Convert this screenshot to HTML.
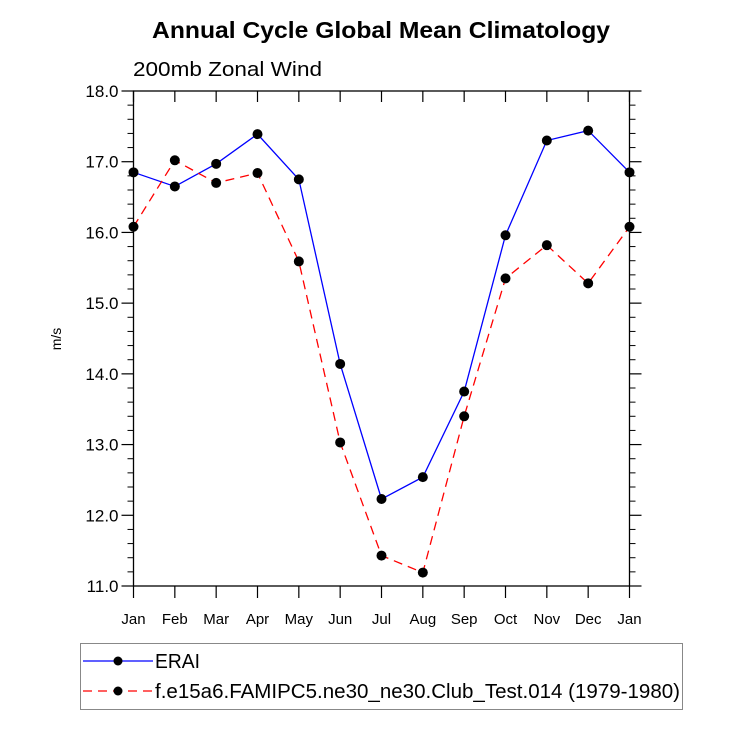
<!DOCTYPE html>
<html><head><meta charset="utf-8"><style>
body{margin:0;background:#fff}
svg text{font-family:"Liberation Sans",Arial,sans-serif}
</style></head><body>
<svg id="chart" width="729" height="729" viewBox="0 0 729 729" xmlns="http://www.w3.org/2000/svg">
<rect width="729" height="729" fill="#fff"/>
<text x="381" y="38" text-anchor="middle" font-size="23" font-weight="bold" textLength="458" lengthAdjust="spacingAndGlyphs">Annual Cycle Global Mean Climatology</text>
<text x="133" y="76" font-size="20" textLength="189" lengthAdjust="spacingAndGlyphs">200mb Zonal Wind</text>
<text transform="translate(61,339) rotate(-90)" text-anchor="middle" font-size="14">m/s</text>
<g id="axes"></g>
<g id="series"></g>
<rect x="80.5" y="643.5" width="602" height="66" fill="none" stroke="#888" stroke-width="1"/>
<g>
<line x1="83" y1="661" x2="153" y2="661" stroke="#00f" stroke-width="1.2"/>
<circle cx="118" cy="661" r="4.5" fill="#000"/>
<text x="155" y="668" font-size="20" textLength="45" lengthAdjust="spacingAndGlyphs">ERAI</text>
</g>
<g>
<line x1="83" y1="691" x2="153" y2="691" stroke="#f00" stroke-width="1.2" stroke-dasharray="9,6"/>
<circle cx="118" cy="691" r="4.5" fill="#000"/>
<text x="155" y="698" font-size="20" textLength="525" lengthAdjust="spacingAndGlyphs">f.e15a6.FAMIPC5.ne30_ne30.Club_Test.014 (1979-1980)</text>
</g>
</svg>
<script>
const months = ["Jan","Feb","Mar","Apr","May","Jun","Jul","Aug","Sep","Oct","Nov","Dec","Jan"];
const eraiValues = [16.85,16.65,16.97,17.39,16.75,14.14,12.23,12.54,13.75,15.96,17.30,17.44,16.85];
const modelValues = [16.08,17.02,16.70,16.84,15.59,13.03,11.43,11.19,13.40,15.35,15.82,15.28,16.08];
const yTicks = [11,12,13,14,15,16,17,18];
const yTickLabels = ["11.0","12.0","13.0","14.0","15.0","16.0","17.0","18.0"];

const NS="http://www.w3.org/2000/svg";
const L=133.5,R=629.5,T=91,B=586,yMin=11,yMax=18;
const xs=i=>L+(R-L)*i/(months.length-1);
const ys=v=>B-(B-T)*(v-yMin)/(yMax-yMin);
function mk(tag,attrs,parent){const e=document.createElementNS(NS,tag);for(const k in attrs)e.setAttribute(k,attrs[k]);parent.appendChild(e);return e;}
const axes=document.getElementById('axes'), ser=document.getElementById('series');
const frame=mk('rect',{x:L,y:T,width:R-L,height:B-T,fill:'none',stroke:'#000','stroke-width':1.3},axes);


yTicks.forEach((v,i)=>{
  const y=ys(v);
  mk('line',{x1:L-12,y1:y,x2:L,y2:y,stroke:'#000','stroke-width':1.2},axes);
  mk('line',{x1:R,y1:y,x2:R+12,y2:y,stroke:'#000','stroke-width':1.2},axes);
  const t=mk('text',{x:L-15,y:y+6,'text-anchor':'end','font-size':17},axes);
  t.textContent=yTickLabels[i];
  
  
  if(i<yTicks.length-1){for(let m=1;m<5;m++){const ym=ys(v+m*0.2);
    mk('line',{x1:L-6,y1:ym,x2:L,y2:ym,stroke:'#000','stroke-width':1},axes);
    mk('line',{x1:R,y1:ym,x2:R+6,y2:ym,stroke:'#000','stroke-width':1},axes);}}
});
months.forEach((m,i)=>{
  const x=xs(i);
  mk('line',{x1:x,y1:B,x2:x,y2:B+12,stroke:'#000','stroke-width':1.2},axes);
  mk('line',{x1:x,y1:T,x2:x,y2:T+11,stroke:'#000','stroke-width':1.2},axes);
  const t=mk('text',{x:x,y:B+38,'text-anchor':'middle','font-size':15},axes);
  t.textContent=m;
  
  
});
function series(vals,color,dash,name){
  const p=mk('polyline',{points:vals.map((v,i)=>xs(i)+','+ys(v)).join(' '),fill:'none',stroke:color,'stroke-width':1.3},ser);
  if(dash)p.setAttribute('stroke-dasharray',dash);
  
  
  vals.forEach((v,i)=>{const c=mk('circle',{cx:xs(i),cy:ys(v),r:5,fill:'#000'},ser);
    
    });
}
series(eraiValues,'#00f',null,'erai');
series(modelValues,'#f00','9,6','model');
</script>
</body></html>
